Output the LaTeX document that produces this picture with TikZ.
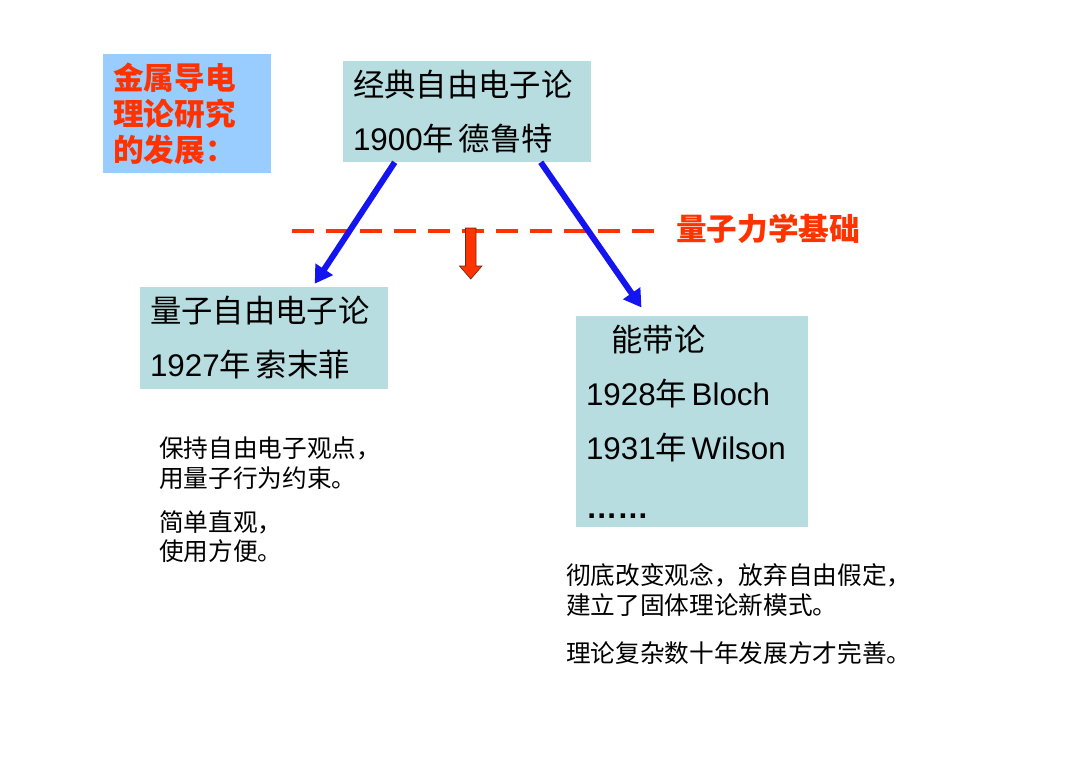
\documentclass[tikz,border=0pt]{standalone}
\usepackage{fontspec}
\setmainfont{Noto Sans CJK SC}
\newfontfamily\arial{Liberation Sans}
\newcommand{\lat}[1]{{\arial #1}}
\usetikzlibrary{arrows.meta}
\definecolor{titlefill}{RGB}{153,204,255}
\definecolor{redtext}{RGB}{255,51,0}
\definecolor{arrowedge}{RGB}{110,40,20}
\definecolor{boxfill}{RGB}{183,221,224}
\definecolor{arrowblue}{RGB}{20,20,240}
\tikzset{box/.style = {fill=boxfill, inner xsep=7.5pt, inner ysep=0pt, align=left, font=\fontsize{23.5}{28}\selectfont}}
\tikzset{bluearrow/.style = {draw=arrowblue, line width=4.5pt, -{Triangle[length=13pt,width=15pt]}}}
\tikzset{note/.style = {anchor=west, inner sep=0pt, align=left, font=\fontsize{18.5}{22}\selectfont}}
\tikzset{redhead/.style = {text=redtext, font=\bfseries\fontsize{23}{27}\selectfont}}

\begin{document}
\begin{tikzpicture}[x=0.75pt,y=-0.75pt]
\useasboundingbox (0,0) rectangle (1080,763);
\node [redhead, fill=titlefill, align=left, text width=111pt, minimum height=89.25pt, inner xsep=7.5pt, inner ysep=0pt] (title) at (187,113.5) {金属导电\\理论研究\\的发展：};
\node [box, text width=171pt, minimum height=75.75pt] (classic) at (467,111.5) {经典自由电子论\\[12.5pt]\lat{1900}年\hspace{3.5pt}德鲁特};
\node [box, text width=171pt, minimum height=76.5pt] (quantum) at (264,338) {量子自由电子论\\[12.5pt]\lat{1927}年\hspace{3.5pt}索末菲};
\node [box, text width=159pt, minimum height=158.25pt] (band) at (692,421.5) {\hspace*{19pt}能带论\\[12.5pt]\lat{1928}年\hspace{3.5pt}\lat{Bloch}\\[13pt]\lat{1931}年\hspace{3.5pt}\lat{Wilson}\\[16pt]\lat{\bfseries ……}};
\node [redhead, anchor=west, inner sep=0pt] (qm) at (676,229) {量子力学基础};
\coordinate (dash) at (292,231);
\draw [draw=redtext, line width=3pt, dash pattern=on 16.5pt off 9pt] (dash) -- ([xshift=-15.75pt,yshift=-1.5pt]qm.west);
\draw [fill=redtext, draw=arrowedge, line width=0.5pt] (465.5,228) -- (476,228) -- (476,266) -- (482,266) -- (470.75,279) -- (459.5,266) -- (465.5,266) -- cycle;
\draw [bluearrow] ([xshift=39pt]classic.south west) -- ([xshift=131.25pt,yshift=2.25pt]quantum.north west);
\draw [bluearrow] ([xshift=148.5pt]classic.south west) -- ([xshift=49.3pt,yshift=6.2pt]band.north west);
\node [note] (keep) at (159,463) {保持自由电子观点，\\用量子行为约束。};
\node [note] (simple) at (159,536.5) {简单直观，\\使用方便。};
\node [note] (change) at (566,590) {彻底改变观念，放弃自由假定，\\建立了固体理论新模式。};
\node [note] (complex) at (566,653) {理论复杂数十年发展方才完善。};
\end{tikzpicture}
\end{document}
